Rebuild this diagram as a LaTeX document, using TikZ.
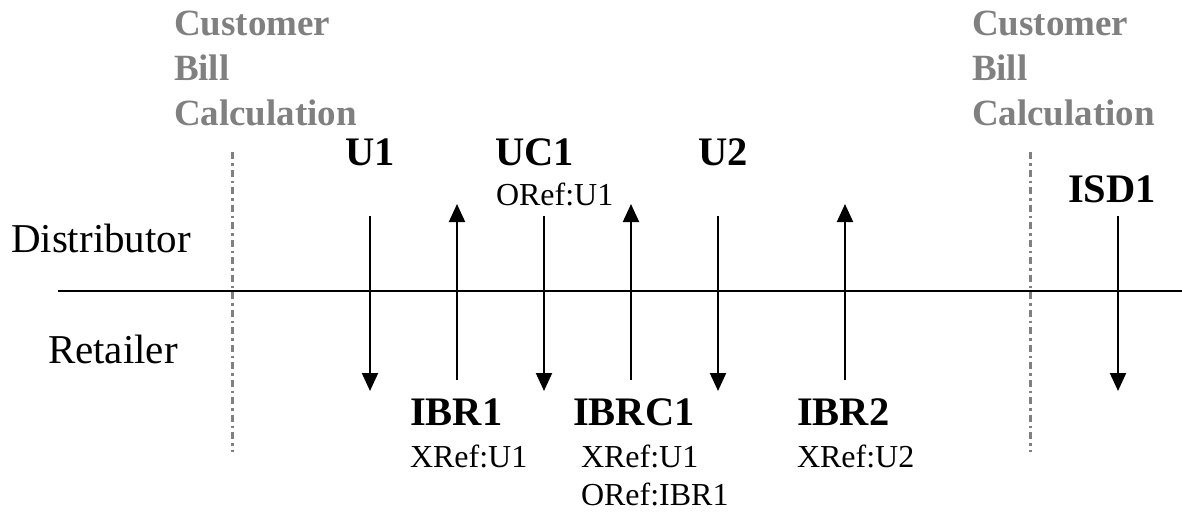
\documentclass[tikz,border=0pt]{standalone}
\usepackage{fontspec}
\setmainfont{Liberation Serif}
\usetikzlibrary{arrows.meta}
\definecolor{gtext}{HTML}{808080}
\tikzset{
  lbl/.style={anchor=base west,inner sep=0pt,outer sep=0pt},
  big/.style={lbl,font=\fontsize{40.5}{48}\selectfont\bfseries},
  reg/.style={lbl,font=\fontsize{41}{48}\selectfont},
  refl/.style={lbl,font=\fontsize{32}{38}\selectfont},
  cbc/.style={lbl,text=gtext,font=\fontsize{37}{45}\selectfont\bfseries},
  msg/.style={line width=2pt,-{Triangle[width=16pt,length=18pt]}},
  sep/.style={gtext,line width=3pt,dash pattern=on 7pt off 4pt on 2.5pt off 4pt},
}
\begin{document}
\begin{tikzpicture}[x=1pt,y=-1pt]
\useasboundingbox (0,0) rectangle (1182,512);
% separators
\coordinate (s1t) at (232,152); \coordinate (s1b) at (232,452);
\coordinate (s2t) at (1030,152); \coordinate (s2b) at (1030,452);
\draw[sep] (s1t) -- (s1b);
\draw[sep] (s2t) -- (s2b);
% timeline
\coordinate (hl) at (58,291); \coordinate (hr) at (1182,291);
\draw[line width=2pt] (hl) -- (hr);
% texts
\node[cbc] (c1a) at (174,35) {Customer};
\node[cbc] (c1b) at (174,80) {Bill};
\node[cbc] (c1c) at (174,125) {Calculation};
\node[cbc] (c2a) at (972,35) {Customer};
\node[cbc] (c2b) at (972,80) {Bill};
\node[cbc] (c2c) at (972,125) {Calculation};
\node[reg] (dist) at (11,252) {Distributor};
\node[reg] (ret) at (48,363) {Retailer};
\node[big] (u1) at (345,165) {U1};
\node[big] (uc1) at (495,165) {UC1};
\node[refl] (or1) at (496,205) {ORef:U1};
\node[big] (u2) at (698,165) {U2};
\node[big] (isd1) at (1068,202) {ISD1};
\node[big] (ibr1) at (410,425) {IBR1};
\node[refl] (xr1) at (410,467) {XRef:U1};
\node[big] (ibrc1) at (573,425) {IBRC1};
\node[refl] (xr2) at (581,467) {XRef:U1};
\node[refl] (or2) at (581,505) {ORef:IBR1};
\node[big] (ibr2) at (797,425) {IBR2};
\node[refl] (xr3) at (797,467) {XRef:U2};
% arrows
\foreach \x/\n in {370/a,544/b,718/c,1118/d}{
  \coordinate (\n t) at (\x,216); \coordinate (\n b) at (\x,391);
  \draw[msg] (\n t) -- (\n b);
}
\foreach \x/\n in {457/e,631/f,845/g}{
  \coordinate (\n t) at (\x,204); \coordinate (\n b) at (\x,380);
  \draw[msg] (\n b) -- (\n t);
}
\end{tikzpicture}
\end{document}
